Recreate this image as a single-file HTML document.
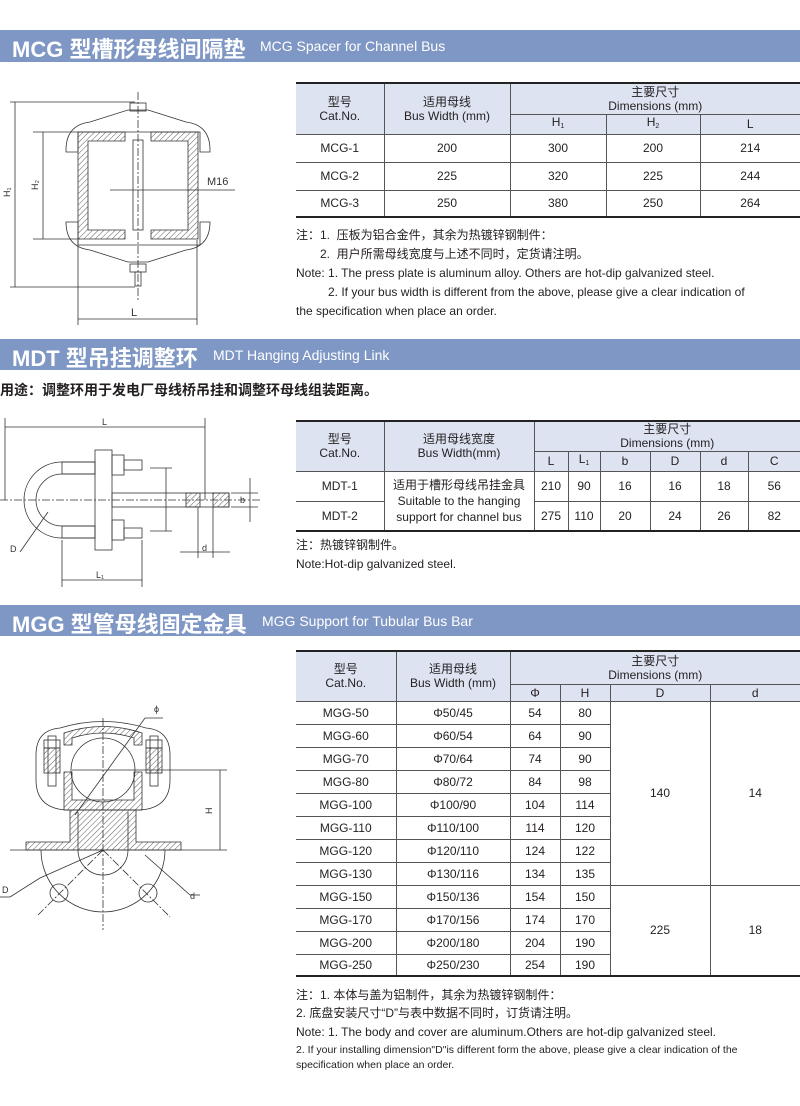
<!DOCTYPE html>
<html><head><meta charset="utf-8"><style>
*{margin:0;padding:0;box-sizing:border-box}
body{width:800px;height:1106px;background:#fff;position:relative;overflow:hidden;font-family:"Liberation Sans","Noto Sans CJK SC",sans-serif;color:#231f20}
.bar{position:absolute;left:0;width:800px;background:#7f97c4;color:#fff;white-space:nowrap}
.bar b{font-size:22px;position:absolute;left:12px;top:2px}
.bar span{font-size:14px;position:absolute;top:8px}
table{position:absolute;border-collapse:collapse;font-size:12px;text-align:center;table-layout:fixed}
td{border:1px solid #555;padding:0;line-height:14px}
tr.h td{background:#dde3f1}
table{border-top:2px solid #222;border-bottom:2px solid #222}
table td:first-child{border-left:none}table td:last-child{border-right:none}
.t{position:absolute;font-size:12px;line-height:19px;white-space:nowrap}
sub{font-size:7px;vertical-align:-2px}
svg{position:absolute;left:0;top:0}
</style></head><body>
<div class="bar" style="top:30px;height:32px"><b>MCG 型槽形母线间隔垫</b><span style="left:260px">MCG Spacer for Channel Bus</span></div>
<div class="bar" style="top:339px;height:31px"><b>MDT 型吊挂调整环</b><span style="left:213px">MDT Hanging Adjusting Link</span></div>
<div class="bar" style="top:605px;height:31px"><b>MGG 型管母线固定金具</b><span style="left:262px">MGG Support for Tubular Bus Bar</span></div>

<table style="left:296px;top:82px;width:504px">
<colgroup><col style="width:88px"><col style="width:126px"><col style="width:96px"><col style="width:94px"><col style="width:100px"></colgroup>
<tr class="h" style="height:31px"><td rowspan="2">型号<br>Cat.No.</td><td rowspan="2">适用母线<br>Bus Width (mm)</td><td colspan="3">主要尺寸<br>Dimensions (mm)</td></tr>
<tr class="h" style="height:17px"><td>H<sub>1</sub></td><td>H<sub>2</sub></td><td>L</td></tr>
<tr style="height:28px"><td>MCG-1</td><td>200</td><td>300</td><td>200</td><td>214</td></tr>
<tr style="height:28px"><td>MCG-2</td><td>225</td><td>320</td><td>225</td><td>244</td></tr>
<tr style="height:27px"><td>MCG-3</td><td>250</td><td>380</td><td>250</td><td>264</td></tr>
</table>
<div class="t" style="left:296px;top:226px">注：1.&nbsp; 压板为铝合金件，其余为热镀锌钢制件：</div>
<div class="t" style="left:320px;top:245px">2.&nbsp; 用户所需母线宽度与上述不同时，定货请注明。</div>
<div class="t" style="left:296px;top:264px">Note: 1. The press plate is aluminum alloy. Others are hot-dip galvanized steel.</div>
<div class="t" style="left:328px;top:283px">2. If your bus width is different from the above, please give a clear indication of</div>
<div class="t" style="left:296px;top:302px">the specification when place an order.</div>

<div class="t" style="left:0;top:381px;font-size:14px;font-weight:bold">用途：调整环用于发电厂母线桥吊挂和调整环母线组装距离。</div>

<table style="left:296px;top:420px;width:504px">
<colgroup><col style="width:88px"><col style="width:150px"><col style="width:34px"><col style="width:32px"><col style="width:50px"><col style="width:50px"><col style="width:48px"><col style="width:52px"></colgroup>
<tr class="h" style="height:30px"><td rowspan="2">型号<br>Cat.No.</td><td rowspan="2">适用母线宽度<br>Bus Width(mm)</td><td colspan="6">主要尺寸<br>Dimensions (mm)</td></tr>
<tr class="h" style="height:18px"><td>L</td><td>L<sub>1</sub></td><td>b</td><td>D</td><td>d</td><td>C</td></tr>
<tr style="height:30px"><td>MDT-1</td><td rowspan="2" style="line-height:16px">适用于槽形母线吊挂金具<br>Suitable to the hanging<br>support for channel bus</td><td>210</td><td>90</td><td>16</td><td>16</td><td>18</td><td>56</td></tr>
<tr style="height:30px"><td>MDT-2</td><td>275</td><td>110</td><td>20</td><td>24</td><td>26</td><td>82</td></tr>
</table>
<div class="t" style="left:296px;top:536px">注：热镀锌钢制件。</div>
<div class="t" style="left:296px;top:555px">Note:Hot-dip galvanized steel.</div>

<table style="left:296px;top:650px;width:504px">
<colgroup><col style="width:100px"><col style="width:114px"><col style="width:50px"><col style="width:50px"><col style="width:100px"><col style="width:90px"></colgroup>
<tr class="h" style="height:33px"><td rowspan="2">型号<br>Cat.No.</td><td rowspan="2">适用母线<br>Bus Width (mm)</td><td colspan="4">主要尺寸<br>Dimensions (mm)</td></tr>
<tr class="h" style="height:17px"><td>Φ</td><td>H</td><td>D</td><td>d</td></tr>
<tr style="height:23px"><td>MGG-50</td><td>Φ50/45</td><td>54</td><td>80</td><td rowspan="8">140</td><td rowspan="8">14</td></tr>
<tr style="height:23px"><td>MGG-60</td><td>Φ60/54</td><td>64</td><td>90</td></tr>
<tr style="height:23px"><td>MGG-70</td><td>Φ70/64</td><td>74</td><td>90</td></tr>
<tr style="height:23px"><td>MGG-80</td><td>Φ80/72</td><td>84</td><td>98</td></tr>
<tr style="height:23px"><td>MGG-100</td><td>Φ100/90</td><td>104</td><td>114</td></tr>
<tr style="height:23px"><td>MGG-110</td><td>Φ110/100</td><td>114</td><td>120</td></tr>
<tr style="height:23px"><td>MGG-120</td><td>Φ120/110</td><td>124</td><td>122</td></tr>
<tr style="height:23px"><td>MGG-130</td><td>Φ130/116</td><td>134</td><td>135</td></tr>
<tr style="height:23px"><td>MGG-150</td><td>Φ150/136</td><td>154</td><td>150</td><td rowspan="4">225</td><td rowspan="4">18</td></tr>
<tr style="height:23px"><td>MGG-170</td><td>Φ170/156</td><td>174</td><td>170</td></tr>
<tr style="height:23px"><td>MGG-200</td><td>Φ200/180</td><td>204</td><td>190</td></tr>
<tr style="height:22px"><td>MGG-250</td><td>Φ250/230</td><td>254</td><td>190</td></tr>
</table>
<div class="t" style="left:296px;top:986px">注：1. 本体与盖为铝制件，其余为热镀锌钢制件：</div>
<div class="t" style="left:296px;top:1004px">2. 底盘安装尺寸“D”与表中数据不同时，订货请注明。</div>
<div class="t" style="left:296px;top:1023px">Note: 1. The body and cover are aluminum.Others are hot-dip galvanized steel.</div>
<div class="t" style="left:296px;top:1043px;font-size:10.5px;line-height:15px">2. If your installing dimension"D"is different form the above, please give a clear indication of the<br>specification when place an order.</div>

<svg width="300" height="1106" viewBox="0 0 300 1106" fill="none" stroke="#333" stroke-width="0.8" font-family="Liberation Sans" font-size="10">
<defs><pattern id="h" width="4" height="4" patternUnits="userSpaceOnUse" patternTransform="rotate(45)"><line x1="0" y1="0" x2="0" y2="4" stroke="#333" stroke-width="0.8"/></pattern></defs>
<line x1="138" y1="92" x2="138" y2="300" stroke-dasharray="8,2,2,2"/>
<path d="M66 150 Q66 125 90 122 L128 110 L148 110 L186 122 Q210 125 210 150 L210 152 L200 152 L200 132 L78 132 L78 152 L66 152Z"/>
<path d="M66 222 L78 222 L78 245 L200 245 L200 222 L210 222 Q210 247 186 250 L148 262 L128 262 L90 250 Q66 247 66 222Z"/>
<rect x="130" y="103" width="16" height="8"/><rect x="130" y="264" width="16" height="8"/><rect x="135" y="272" width="6" height="14"/>
<path d="M78 132 H125 V141 H88 V230 H125 V239 H78Z" fill="url(#h)"/>
<path d="M198 132 H151 V141 H188 V230 H151 V239 H198Z" fill="url(#h)"/>
<rect x="133" y="140" width="10" height="90"/>
<line x1="10" y1="102" x2="135" y2="102"/><line x1="10" y1="287" x2="135" y2="287"/><line x1="15" y1="102" x2="15" y2="287"/>
<line x1="33" y1="132" x2="80" y2="132"/><line x1="33" y1="239" x2="80" y2="239"/><line x1="43" y1="132" x2="43" y2="239"/>
<line x1="110" y1="190" x2="235" y2="190"/><line x1="78" y1="240" x2="78" y2="325"/><line x1="197" y1="240" x2="197" y2="325"/><line x1="78" y1="319" x2="197" y2="319"/>
<g fill="#333" stroke="none"><text x="207" y="185" font-size="11">M16</text><text x="131" y="316" font-size="11">L</text>
<text transform="translate(10,197) rotate(-90)" font-size="9">H₁</text><text transform="translate(38,190) rotate(-90)" font-size="9">H₂</text></g>
<line x1="5" y1="427" x2="205" y2="427"/><line x1="5" y1="418" x2="5" y2="500"/><line x1="205" y1="418" x2="205" y2="500"/>
<line x1="0" y1="500" x2="260" y2="500" stroke-dasharray="8,2,2,2"/>
<path d="M62 462 A38 38 0 0 0 62 538 L95 538 L95 526 L62 526 A26 26 0 0 1 62 474 L95 474 L95 462Z"/>
<rect x="62" y="462" width="33" height="12"/><rect x="62" y="526" width="33" height="12"/>
<rect x="95" y="450" width="17" height="100"/>
<rect x="112" y="455" width="12" height="20"/><rect x="112" y="520" width="12" height="20"/>
<rect x="124" y="460" width="18" height="10"/><rect x="124" y="528" width="18" height="10"/>
<rect x="112" y="493" width="117" height="14"/>
<rect x="186" y="493" width="14" height="14" fill="url(#h)"/><rect x="213" y="493" width="16" height="14" fill="url(#h)"/>
<line x1="150" y1="468" x2="172" y2="468"/><line x1="150" y1="531" x2="172" y2="531"/><line x1="166" y1="468" x2="166" y2="531"/>
<line x1="231" y1="493" x2="258" y2="493"/><line x1="231" y1="507" x2="258" y2="507"/><line x1="250" y1="478" x2="250" y2="522"/>
<line x1="198" y1="507" x2="198" y2="558"/><line x1="213" y1="507" x2="213" y2="558"/><line x1="180" y1="552" x2="230" y2="552"/>
<line x1="62" y1="540" x2="62" y2="587"/><line x1="142" y1="540" x2="142" y2="587"/><line x1="62" y1="580" x2="142" y2="580"/>
<line x1="20" y1="552" x2="48" y2="512"/>
<g fill="#333" stroke="none" font-size="9"><text x="102" y="425">L</text><text x="96" y="578">L₁</text><text x="202" y="551">d</text><text x="240" y="503">b</text><text x="10" y="552">D</text></g>
<line x1="103" y1="718" x2="103" y2="930" stroke-dasharray="8,2,2,2"/>
<path d="M36 755 Q36 730 60 728 Q103 715 146 728 Q170 730 170 755 L170 780 Q170 808 140 810 L66 810 Q36 808 36 780Z"/>
<circle cx="103" cy="770" r="32"/>
<path d="M64 733 Q103 720 142 733 L142 745 L134 745 L134 738 Q103 728 72 738 L72 745 L64 745Z" fill="url(#h)"/>
<path d="M64 772 H72 V800 H134 V772 H142 V810 H64Z" fill="url(#h)"/>
<rect x="44" y="748" width="16" height="25" fill="url(#h)"/><rect x="146" y="748" width="16" height="25" fill="url(#h)"/>
<rect x="48" y="736" width="8" height="50"/><rect x="150" y="736" width="8" height="50"/>
<rect x="44" y="740" width="16" height="8"/><rect x="146" y="740" width="16" height="8"/>
<line x1="72" y1="770" x2="227" y2="770"/>
<path d="M70 810 V842 H26 V850 H181 V842 H136 V810Z" fill="url(#h)"/>
<path d="M78 812 V850 A25 25 0 0 0 128 850 V812"/>
<line x1="10" y1="850" x2="227" y2="850"/>
<path d="M41 850 A62 62 0 0 0 165 850"/>
<circle cx="59" cy="893" r="9"/><circle cx="148" cy="893" r="9"/>
<line x1="103" y1="850" x2="38" y2="915" stroke-dasharray="8,2,2,2"/><line x1="103" y1="850" x2="170" y2="917" stroke-dasharray="8,2,2,2"/>
<line x1="220" y1="770" x2="220" y2="850"/>
<line x1="75" y1="815" x2="145" y2="718"/><line x1="145" y1="718" x2="163" y2="718"/>
<line x1="103" y1="850" x2="40" y2="878"/><line x1="40" y1="878" x2="10" y2="897"/><line x1="10" y1="897" x2="0" y2="897"/>
<line x1="145" y1="855" x2="190" y2="895"/><line x1="190" y1="895" x2="200" y2="895"/>
<g fill="#333" stroke="none" font-size="9"><text x="154" y="712">ϕ</text><text transform="translate(212,814) rotate(-90)">H</text><text x="2" y="893">D</text><text x="190" y="899">d</text></g>
</svg>
</body></html>
